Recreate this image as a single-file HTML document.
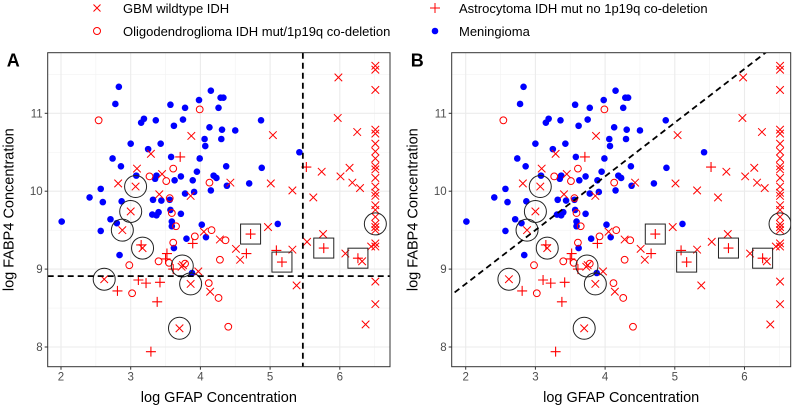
<!DOCTYPE html>
<html><head><meta charset="utf-8"><style>
body{margin:0;background:#fff;}
svg{display:block;font-family:"Liberation Sans",Arial,sans-serif;}
</style></head><body>
<svg id="chart" width="798" height="410">
<g>
<g><path d="M93.5,4.5l7,7M93.5,11.5l7,-7" stroke="#f00"/><text x="123" y="13" font-size="13" fill="#000">GBM wildtype IDH</text></g>
<g><circle cx="97" cy="31" r="3.5" fill="none" stroke="#f00"/><text x="123" y="36" font-size="13" fill="#000">Oligodendroglioma IDH mut/1p19q co-deletion</text></g>
<g><path d="M430,8h10M435,3v10" stroke="#f00"/><text x="459" y="13" font-size="13" fill="#000">Astrocytoma IDH mut no 1p19q co-deletion</text></g>
<g><circle cx="435" cy="31" r="3.3" fill="#00f"/><text x="459" y="36" font-size="13" fill="#000">Meningioma</text></g>
</g>
</svg>
<script>
const blueX=[2.01,2.41,2.57,2.57,2.60,2.71,2.80,2.74,2.78,2.83,2.86,2.84,2.87,3.00,3.08,3.15,3.19,3.25,3.35,3.36,3.43,3.37,3.32,3.31,3.37,3.40,3.44,3.56,3.57,3.58,3.62,3.63,3.57,3.59,3.59,3.62,3.72,3.72,3.75,3.78,3.78,3.80,3.89,3.91,3.95,3.99,3.98,4.02,4.06,4.07,4.08,4.13,4.15,4.15,4.19,4.23,4.26,4.29,4.33,4.30,4.31,4.37,4.38,4.50,4.70,4.87,4.88,5.11,5.42,3.88];
const blueY=[9.61,9.92,10.03,9.49,9.86,9.64,9.59,10.42,11.12,11.34,10.32,9.18,9.87,10.61,10.20,10.88,10.93,10.54,10.16,10.91,10.61,10.20,9.89,9.70,9.69,9.73,9.88,9.89,11.11,10.44,10.84,10.14,9.76,9.61,9.55,9.27,10.19,9.71,10.92,11.07,9.97,9.39,10.14,9.99,10.25,10.42,11.17,9.57,10.67,10.58,9.41,10.82,11.29,10.01,10.20,10.17,11.07,11.20,11.20,10.67,10.79,10.32,10.07,10.78,10.10,10.91,10.30,9.58,10.50,8.95];
const gbmX=[2.82,3.09,3.07,3.00,2.88,3.17,2.62,3.29,3.41,3.45,3.86,3.87,3.73,3.75,3.86,3.70,3.97,4.14,4.05,4.28,4.43,4.51,4.57,5.04,5.01,4.97,5.32,5.32,5.38,5.53,5.62,5.74,5.76,5.98,5.97,6.01,6.08,6.14,6.18,6.25,6.29,6.32,6.37,6.45,6.51,6.51,6.51,6.51,6.51,6.51,6.51,6.51,6.51,6.51,6.51,6.51,6.51,6.51,6.51,6.51,6.51,6.51,6.51,6.51,6.51,6.51,6.51,6.51];
const gbmY=[10.10,10.29,10.06,9.74,9.50,9.27,8.87,10.48,9.96,10.22,9.94,10.71,9.03,9.05,8.81,8.24,8.97,8.71,9.48,9.38,10.11,9.26,9.12,10.72,10.10,9.54,10.01,9.25,8.79,9.35,9.92,10.25,9.45,11.46,10.94,10.19,9.20,10.30,10.11,10.76,10.04,9.10,8.29,9.29,11.61,11.56,11.30,10.79,10.74,10.61,10.51,10.42,10.32,10.28,10.17,10.06,9.98,9.94,9.82,9.76,9.67,9.58,9.54,9.50,9.33,9.29,8.84,8.55];
const oligoX=[2.54,2.98,3.02,3.27,3.40,3.51,3.56,3.59,3.61,3.61,3.65,3.78,3.92,3.99,4.13,4.12,4.16,4.26,4.28,4.40,4.36,3.55];
const oligoY=[10.91,9.05,8.69,10.19,9.10,10.13,9.91,9.72,10.29,9.34,9.55,9.07,9.42,11.05,10.11,8.82,9.50,8.63,9.12,8.26,9.37,9.08];
const astroX=[3.71,2.81,3.11,3.22,3.42,3.38,3.29,3.52,3.50,3.61,3.89,3.15,4.72,4.66,5.17,5.09,5.52,5.77,6.26];
const astroY=[10.44,8.72,8.86,8.82,8.83,8.58,7.94,9.20,9.13,9.00,9.33,9.31,9.45,9.20,9.09,9.24,10.31,9.27,9.14];
const ringX=[3.07,3.00,2.88,3.17,2.62,3.74,3.86,3.70,6.51];
const ringY=[10.06,9.74,9.50,9.27,8.87,9.04,8.81,8.24,9.58];
const boxX=[4.72,5.17,5.77,6.26];
const boxY=[9.45,9.09,9.27,9.14];
const xTicks=[2,3,4,5,6];
const yTicks=[8,9,10,11];
const cutX=5.47, cutY=8.91;
const lineIntercept=7.43, lineSlope=0.69;

const NS="http://www.w3.org/2000/svg";
const svg=document.getElementById('chart');
function mk(tag,attrs,parent){const e=document.createElementNS(NS,tag);for(const k in attrs)e.setAttribute(k,attrs[k]);parent.appendChild(e);return e;}

function panel(letter,L,R,x2px,tag){
  const T=52.7,B=366.7;
  const sx=v=>x2px+(v-2)*69.7;
  const sy=v=>113.3+(11-v)*77.9;
  const g=mk('g',{},svg);
  
  
  const clipId='clip'+tag;
  const cp=mk('clipPath',{id:clipId},g);mk('rect',{x:L,y:T,width:R-L,height:B-T},cp);
  for(let v=1.5;v<=7;v+=1){const x=sx(v);if(x>L&&x<R)mk('line',{x1:x,x2:x,y1:T,y2:B,stroke:'#f2f2f2','stroke-width':0.6},g);}
  for(let v=7.5;v<=12;v+=1){const y=sy(v);if(y>T&&y<B)mk('line',{x1:L,x2:R,y1:y,y2:y,stroke:'#f2f2f2','stroke-width':0.6},g);}
  xTicks.forEach(v=>{const x=sx(v);mk('line',{x1:x,x2:x,y1:T,y2:B,stroke:'#ebebeb','stroke-width':1.1},g);
    const t=mk('text',{x:x,y:B+14,'font-size':11.5,fill:'#4d4d4d','text-anchor':'middle'},g);t.textContent=v;
    
    
    mk('line',{x1:x,x2:x,y1:B,y2:B+3,stroke:'#333'},g);});
  yTicks.forEach(v=>{const y=sy(v);mk('line',{x1:L,x2:R,y1:y,y2:y,stroke:'#ebebeb','stroke-width':1.1},g);
    const t=mk('text',{x:L-5,y:y+4,'font-size':11.5,fill:'#4d4d4d','text-anchor':'end'},g);t.textContent=v;
    
    
    mk('line',{x1:L-3,x2:L,y1:y,y2:y,stroke:'#333'},g);});
  const d=mk('g',{'clip-path':'url(#'+clipId+')'},g);
  blueX.forEach((v,i)=>{const c=mk('circle',{cx:sx(v),cy:sy(blueY[i]),r:3.3,fill:'#00f'},d);
    
    });
  oligoX.forEach((v,i)=>{const c=mk('circle',{cx:sx(v),cy:sy(oligoY[i]),r:3.4,fill:'none',stroke:'#f00','stroke-width':1},d);
    
    });
  gbmX.forEach((v,i)=>{const x=sx(v),y=sy(gbmY[i]),s=3.8;const p=mk('path',{d:`M${x-s},${y-s}L${x+s},${y+s}M${x-s},${y+s}L${x+s},${y-s}`,stroke:'#f00','stroke-width':1},d);
    
    });
  astroX.forEach((v,i)=>{const x=sx(v),y=sy(astroY[i]),s=5;const p=mk('path',{d:`M${x-s},${y}H${x+s}M${x},${y-s}V${y+s}`,stroke:'#f00','stroke-width':1.1},d);
    
    });
  ringX.forEach((v,i)=>{const c=mk('circle',{cx:sx(v),cy:sy(ringY[i]),r:11,fill:'none',stroke:'#222','stroke-width':1},d);
    
    });
  boxX.forEach((v,i)=>{const r=mk('rect',{x:sx(v)-10,y:sy(boxY[i])-10,width:20,height:20,fill:'none',stroke:'#222','stroke-width':1},d);
    
    });
  if(tag==='a'){
    const v=mk('line',{x1:sx(cutX),x2:sx(cutX),y1:T,y2:B,stroke:'#000','stroke-width':1.8,'stroke-dasharray':'6,4'},d);
    
    
    const h=mk('line',{x1:L,x2:R,y1:sy(cutY),y2:sy(cutY),stroke:'#000','stroke-width':1.8,'stroke-dasharray':'6,4'},d);
    
    
  } else {
    const x1=1.5,x2=7;
    const l=mk('line',{x1:sx(x1),y1:sy(lineIntercept+lineSlope*x1),x2:sx(x2),y2:sy(lineIntercept+lineSlope*x2),stroke:'#000','stroke-width':1.8,'stroke-dasharray':'6,4'},d);
    
    
  }
  mk('rect',{x:L,y:T,width:R-L,height:B-T,fill:'none',stroke:'#333','stroke-width':1},g);
  const lt=mk('text',{x:L-41,y:T+14,'font-size':18,'font-weight':'bold',fill:'#000'},g);lt.textContent=letter;
  
  
  const xt=mk('text',{x:(L+R)/2,y:402,'font-size':14.5,fill:'#000','text-anchor':'middle'},g);xt.textContent='log GFAP Concentration';
  
  
  const cy=(T+B)/2, cx=L-34;
  const yt=mk('text',{x:cx,y:cy,'font-size':14.5,fill:'#000','text-anchor':'middle',transform:`rotate(-90 ${cx} ${cy})`},g);yt.textContent='log FABP4 Concentration';
  
  
}
panel('A',47.7,390,61,'a');
panel('B',451.7,790.7,465.7,'b');
</script>
</body></html>
